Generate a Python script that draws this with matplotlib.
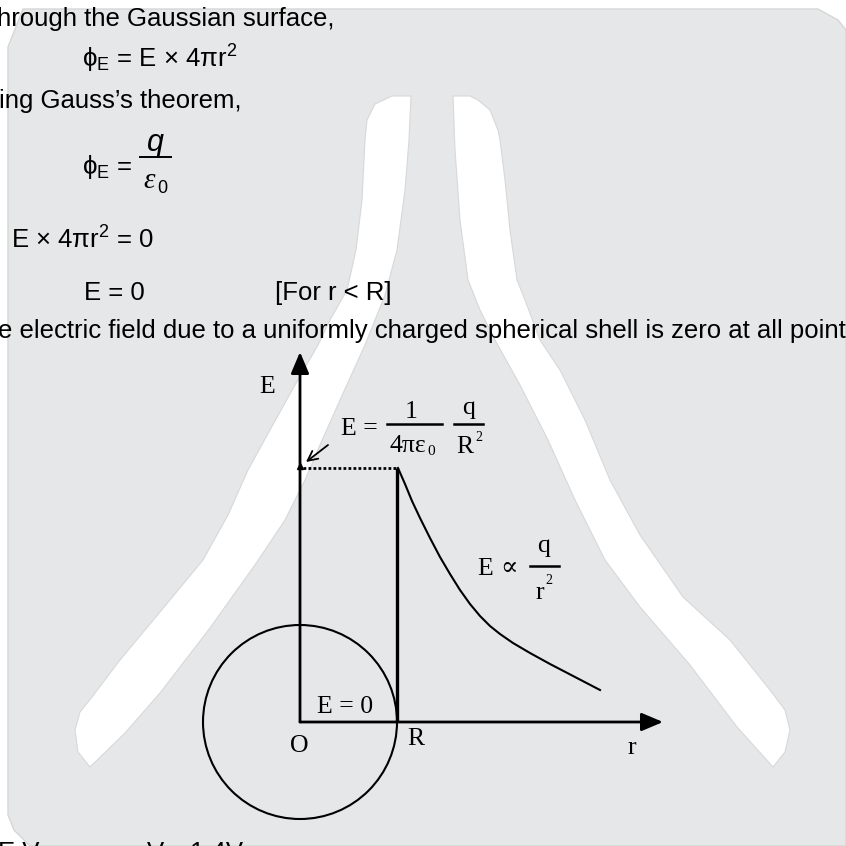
import numpy as np
import matplotlib
matplotlib.use("Agg")
import matplotlib.pyplot as plt
from matplotlib.patches import Polygon, Circle

plt.rcParams['mathtext.fontset'] = 'custom'
plt.rcParams['mathtext.rm'] = 'Liberation Sans'
plt.rcParams['mathtext.it'] = 'Liberation Sans:italic'
plt.rcParams['mathtext.default'] = 'regular'
plt.rcParams['mathtext.fallback'] = 'stixsans'

SANS = ['Liberation Sans', 'DejaVu Sans']
SERIF = ['Liberation Serif', 'DejaVu Serif']

# diagram values (pixel space of the page)
origin = (300, 722)
R_x = 397
E_max_y = 468
y_axis_top = 352
x_axis_end = 663
shell_radius = 97

# E(r) curve outside the shell
curve_r = [398, 405, 412, 420, 430, 440, 450, 460, 470, 480, 490, 500, 513, 530, 550, 575, 600]
curve_E = [468, 484, 501, 518, 538, 557, 574, 590, 604, 616, 626, 634, 643, 653, 664, 677, 690]

# background watermark shapes
panel = [(8, 47), (23, 9), (818, 9), (838, 20), (846, 30), (846, 846),
         (30, 846), (14, 830), (8, 815)]
left_band = [(392, 96), (375, 104), (367, 120), (365, 140), (362, 200), (356, 250),
             (347, 290), (330, 320), (318, 345), (295, 385), (270, 430), (248, 470),
             (228, 515), (203, 560), (160, 612), (120, 660), (92, 697), (80, 712),
             (75, 730), (78, 752), (90, 767), (125, 733), (160, 693), (210, 628),
             (257, 562), (285, 520), (305, 480), (320, 445), (340, 400), (365, 345),
             (385, 295), (397, 250), (405, 190), (409, 140), (411, 96)]
right_band = [(453, 96), (455, 150), (460, 220), (468, 280), (480, 310), (495, 340),
              (520, 385), (548, 440), (575, 500), (605, 560), (640, 607), (690, 665),
              (737, 727), (773, 767), (785, 752), (790, 730), (785, 710), (770, 690),
              (730, 640), (683, 597), (640, 535), (610, 480), (585, 420), (560, 370),
              (540, 340), (525, 300), (517, 280), (510, 230), (505, 180), (500, 140),
              (498, 130), (490, 110), (478, 100), (470, 96)]

fig = plt.figure(figsize=(8.46, 8.46), dpi=100)
ax = fig.add_axes([0, 0, 1, 1])
ax.set_xlim(0, 846)
ax.set_ylim(846, 0)
ax.axis('off')

ax.add_patch(Polygon(panel, closed=True, fc='#e6e7e8', ec='#d6d6d6', lw=1))
ax.add_patch(Polygon(left_band, closed=True, fc='white', ec='#d8d8d8', lw=0.8))
ax.add_patch(Polygon(right_band, closed=True, fc='white', ec='#d8d8d8', lw=0.8))

# body text
fs = 18.5
ax.text(-3, 26, "hrough the Gaussian surface,", fontsize=fs, family=SANS, va='baseline')
ax.text(82, 68, r"$ϕ_{E}$ = E × 4πr$^2$", fontsize=fs, family=SANS, va='baseline')
ax.text(-1, 108, "ing Gauss’s theorem,", fontsize=fs, family=SANS, va='baseline')
ax.text(82, 174, r"$ϕ_{E}$ =", fontsize=fs, family=SANS, va='baseline')
ax.text(155, 151, "q", fontsize=22, family=SANS, style='italic', va='baseline', ha='center')
ax.plot([140, 171], [157, 157], color='k', lw=1.4)
ax.text(143, 188, "ε", fontsize=21, family=SERIF, style='italic', va='baseline')
ax.text(157, 193, "0", fontsize=13, family=SANS, va='baseline')
ax.text(11, 249, "E × 4πr$^2$ = 0", fontsize=fs, family=SANS, va='baseline')
ax.text(84, 300, "E = 0", fontsize=fs, family=SANS, va='baseline')
ax.text(275, 300, "[For r < R]", fontsize=fs, family=SANS, va='baseline')
ax.text(-2, 338, "e electric field due to a uniformly charged spherical shell is zero at all points",
        fontsize=fs, family=SANS, va='baseline')
ax.text(-2, 860, "E V", fontsize=fs, family=SANS, va='baseline')
ax.text(147, 860, "V", fontsize=fs, family=SANS, va='baseline')
ax.text(190, 860, "1.4V", fontsize=fs, family=SANS, va='baseline')

# shell
ax.add_patch(Circle(origin, shell_radius, fill=False, ec='k', lw=1.5))

# axes with arrows
ax.annotate('', xy=(origin[0], y_axis_top), xytext=origin,
            arrowprops=dict(arrowstyle='-|>,head_length=1.3,head_width=0.55',
                            lw=2, color='k', mutation_scale=10, shrinkA=0, shrinkB=0))
ax.annotate('', xy=(x_axis_end, origin[1]), xytext=origin,
            arrowprops=dict(arrowstyle='-|>,head_length=1.3,head_width=0.55',
                            lw=2, color='k', mutation_scale=10, shrinkA=0, shrinkB=0))

# field inside (0) and at the surface
ax.plot([origin[0] + 3, R_x], [E_max_y, E_max_y], color='k', lw=2,
        dashes=(1, 0.8), dash_capstyle='butt')
ax.plot([R_x, R_x], [origin[1], E_max_y], color='k', lw=2.4, solid_capstyle='butt')
ax.plot(curve_r, curve_E, color='k', lw=1.5)
ax.plot([origin[0]], [E_max_y - 2], marker='^', ms=5, color='k')
ax.annotate('', xy=(306, 462), xytext=(328, 445),
            arrowprops=dict(arrowstyle='->,head_length=0.7,head_width=0.35',
                            lw=1.3, color='k', mutation_scale=10, shrinkA=0, shrinkB=0))

# diagram labels
dfs = 18.5
ax.text(259, 393, "E", fontsize=dfs, family=SERIF, va='baseline')
ax.text(341, 435, "E =", fontsize=dfs, family=SERIF, va='baseline')
ax.text(411, 418, "1", fontsize=dfs, family=SERIF, va='baseline', ha='center')
ax.plot([387, 442], [424, 424], color='k', lw=1.8)
ax.text(390, 452, "4πε", fontsize=dfs, family=SERIF, va='baseline')
ax.text(427, 455, "0", fontsize=11, family=SERIF, va='baseline')
ax.text(469, 414, "q", fontsize=dfs, family=SERIF, va='baseline', ha='center')
ax.plot([454, 483], [424, 424], color='k', lw=1.8)
ax.text(456, 453, "R", fontsize=dfs, family=SERIF, va='baseline')
ax.text(475, 441, "2", fontsize=10, family=SERIF, va='baseline')

ax.text(477, 575, "E", fontsize=dfs, family=SERIF, va='baseline')
ax.text(500, 575, "∝", fontsize=dfs, family=SERIF, va='baseline')
ax.text(544, 552, "q", fontsize=dfs, family=SERIF, va='baseline', ha='center')
ax.plot([530, 559], [566, 566], color='k', lw=1.8)
ax.text(536, 599, "r", fontsize=dfs, family=SERIF, va='baseline')
ax.text(545, 584, "2", fontsize=10, family=SERIF, va='baseline')

ax.text(317, 713, "E = 0", fontsize=dfs, family=SERIF, va='baseline')
ax.text(299, 752, "O", fontsize=dfs, family=SERIF, va='baseline', ha='center')
ax.text(407, 745, "R", fontsize=dfs, family=SERIF, va='baseline')
ax.text(627, 754, "r", fontsize=dfs, family=SERIF, va='baseline')

fig.savefig("out.png", dpi=100, facecolor='white')
